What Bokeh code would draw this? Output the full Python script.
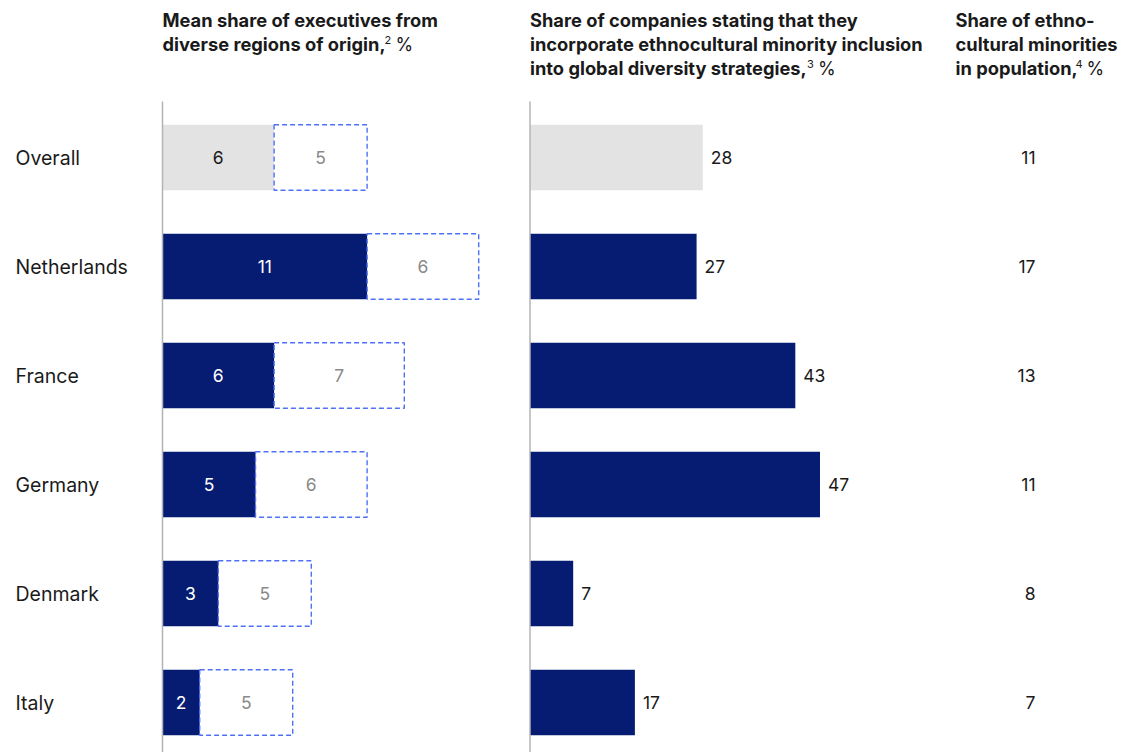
from bokeh.plotting import figure
from bokeh.layouts import row
from bokeh.models import Range1d, ColumnDataSource
from bokeh.embed import file_html
from bokeh.resources import INLINE
from bokeh.core.properties import value

# ---------------- data ----------------
countries = ["Overall", "Netherlands", "France", "Germany", "Denmark", "Italy"]
exec_share = [6, 11, 6, 5, 3, 2]          # mean share of executives from diverse regions
exec_gap = [5, 6, 7, 6, 5, 5]             # dashed extension
strategy_share = [28, 27, 43, 47, 7, 17]  # share of companies incorporating inclusion
population_share = [11, 17, 13, 11, 8, 7] # share of minorities in population

# ---------------- style ----------------
FONT = value("Inter")
NAVY = "#061c73"
GREY = "#e3e3e3"
DASH_BLUE = "#4f70f5"
AXIS_GREY = "#b4b4b4"
TXT = "#1a1a1a"

H = 752
TOP = 0
ROW0 = 157.0
PITCH = 109.0


def yv(img_y):
    return (img_y - ROW0) / PITCH


def mkfig(w, xr):
    p = figure(width=w, height=H, x_range=xr, y_range=Range1d(yv(TOP + H), yv(TOP)),
               output_backend="svg", toolbar_location=None, min_border=0)
    p.axis.visible = False
    p.grid.visible = False
    p.outline_line_color = None
    return p


rows = list(range(len(countries)))
fill = [GREY if c == "Overall" else NAVY for c in countries]
inner_col = [TXT if c == "Overall" else "white" for c in countries]

# ---------- labels column ----------
f0 = mkfig(160, Range1d(0, 160))
f0.text(x=[15] * len(rows), y=rows, text=countries, text_font=FONT, text_font_size="19.5px",
        text_color=TXT, text_baseline="middle", text_align="left")

# ---------- panel 1 ----------
S1 = 18.6
f1 = mkfig(368, Range1d(-2 / S1, (368 - 2) / S1))
src1 = ColumnDataSource(dict(
    y=rows, v=exec_share, g=exec_gap,
    vc=[v / 2 for v in exec_share],
    gx=[v + g / 2 for v, g in zip(exec_share, exec_gap)],
    gend=[v + g for v, g in zip(exec_share, exec_gap)],
    zero=[0] * len(rows), fill=fill, tc=inner_col,
    vt=[str(v) for v in exec_share], gt=[str(g) for g in exec_gap]))
f1.hbar(y="y", left="zero", right="v", height=0.6, fill_color="fill", line_color=None, source=src1)
f1.hbar(y="y", left="v", right="gend", height=0.6, fill_color=None, line_color=DASH_BLUE,
        line_dash="5 3", line_width=1.4, source=src1)
f1.segment(x0=0, y0=yv(101), x1=0, y1=yv(TOP + H + 5), line_color=AXIS_GREY, line_width=1.5)
f1.text(x="vc", y="y", text="vt", text_color="tc", text_font=FONT, text_font_size="17.5px",
        text_align="center", text_baseline="middle", source=src1)
f1.text(x="gx", y="y", text="gt", text_color="#8a8a8a", text_font=FONT, text_font_size="17.5px",
        text_align="center", text_baseline="middle", source=src1)

# ---------- panel 2 ----------
S2 = 6.17
f2 = mkfig(412, Range1d(-1.5 / S2, (412 - 1.5) / S2))
src2 = ColumnDataSource(dict(y=rows, v=strategy_share, zero=[0] * len(rows), fill=fill,
                             t=[str(v) for v in strategy_share]))
f2.hbar(y="y", left="zero", right="v", height=0.6, fill_color="fill", line_color=None, source=src2)
f2.segment(x0=0, y0=yv(101), x1=0, y1=yv(TOP + H + 5), line_color=AXIS_GREY, line_width=1.5)
f2.text(x="v", y="y", text="t", x_offset=8, text_color=TXT, text_font=FONT, text_font_size="17.5px",
        text_align="left", text_baseline="middle", source=src2)

# ---------- panel 3 ----------
f3 = mkfig(188, Range1d(0, 188))
f3.text(x=[95] * len(rows), y=rows, text=[str(v) for v in population_share], text_color=TXT,
        text_font=FONT, text_font_size="17.5px", text_align="right", text_baseline="middle")

# ---------- headers ----------
CENTERS = [19.5, 43.5, 67.5]


def header(p, x0, lines, sup, sup_dx, pct_dx):
    for i, ln in enumerate(lines):
        p.text(x=[x0], y=[yv(CENTERS[i])], text=[ln], text_font=FONT, text_font_size="18.3px",
               text_font_style="bold", text_color=TXT, text_align="left", text_baseline="middle")
    last = len(lines) - 1
    p.text(x=[x0], y=[yv(CENTERS[last])], text=[sup], x_offset=sup_dx, y_offset=-4,
           text_font=FONT, text_font_size="11px", text_color=TXT, text_align="left",
           text_baseline="middle")
    p.text(x=[x0], y=[yv(CENTERS[last])], text=["%"], x_offset=pct_dx,
           text_font=FONT, text_font_size="18px", text_color=TXT, text_align="left",
           text_baseline="middle")


header(f1, 0, ["Mean share of executives from", "diverse regions of origin,"], "2", 222, 233)
header(f2, 0, ["Share of companies stating that they",
               "incorporate ethnocultural minority inclusion",
               "into global diversity strategies,"], "3", 277, 288)
header(f3, 15, ["Share of ethno-", "cultural minorities", "in population,"], "4", 120, 131)

layout = row(f0, f1, f2, f3)
open("out.html", "w").write(file_html(layout, INLINE))
